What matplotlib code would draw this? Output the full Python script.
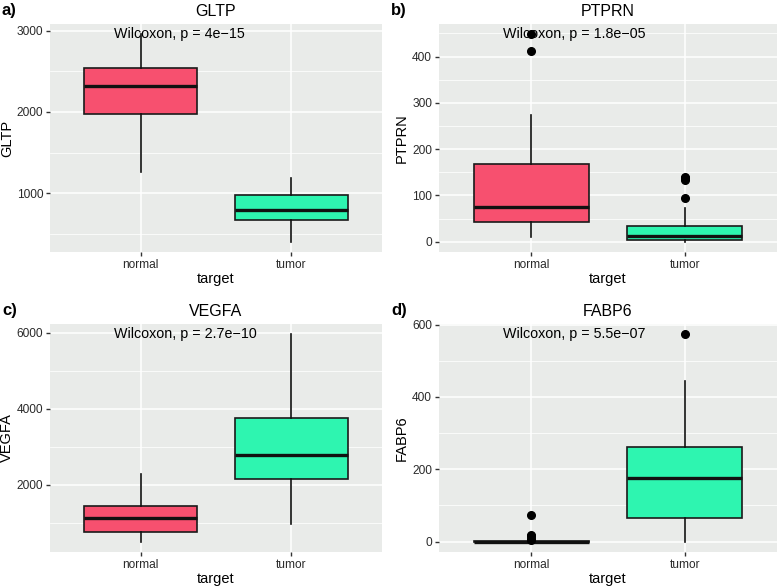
import matplotlib
matplotlib.use("Agg")
import matplotlib.pyplot as plt
import matplotlib.transforms as mtransforms
from matplotlib.ticker import MultipleLocator, AutoMinorLocator

plt.rcParams['font.family'] = ['Liberation Sans', 'DejaVu Sans']

categories = ["normal", "tumor"]
genes = ["GLTP", "PTPRN", "VEGFA", "FABP6"]
panel_tags = ["a)", "b)", "c)", "d)"]
pvalues = ["4e\u221215", "1.8e\u221205", "2.7e\u221210", "5.5e\u221207"]

# box stats per gene: (whislo, q1, med, q3, whishi) for normal, tumor
gltp_normal = [1265, 1970, 2320, 2540, 2958]
gltp_tumor = [400, 670, 790, 980, 1190]
ptprn_normal = [10, 42, 75, 167, 273]
ptprn_tumor = [0, 3, 13, 33, 72]
vegfa_normal = [500, 750, 1130, 1450, 2270]
vegfa_tumor = [960, 2150, 2780, 3760, 5956]
fabp6_normal = [0, 0, 0, 1, 2]
fabp6_tumor = [0, 65, 177, 263, 443]

# outliers
gltp_out = [[], []]
ptprn_out = [[448, 413], [140, 137, 133, 94]]
vegfa_out = [[], []]
fabp6_out = [[73, 18, 15, 8, 4], [573]]

stats_all = [(gltp_normal, gltp_tumor), (ptprn_normal, ptprn_tumor),
             (vegfa_normal, vegfa_tumor), (fabp6_normal, fabp6_tumor)]
outs_all = [gltp_out, ptprn_out, vegfa_out, fabp6_out]
major_steps = [1000, 100, 2000, 200]

colors = ["#F7506F", "#2EF5B0"]
W, H = 778, 587
# panel pixel boxes: left, top, right, bottom
boxes_px = [(50, 24, 382, 252), (439, 24, 777, 252),
            (50, 324, 382, 552), (439, 324, 777, 552)]
ylabel_x_px = [7, 402, 7, 402]

fig = plt.figure(figsize=(W / 100, H / 100), dpi=100)
fig.patch.set_facecolor("white")

for i, gene in enumerate(genes):
    l, t, r, b = boxes_px[i]
    ax = fig.add_axes([l / W, 1 - b / H, (r - l) / W, (b - t) / H])
    ax.set_facecolor("#E9EBE9")
    sn, st = stats_all[i]
    bxp = []
    for k, s in enumerate((sn, st)):
        bxp.append(dict(whislo=s[0], q1=s[1], med=s[2], q3=s[3], whishi=s[4],
                        fliers=outs_all[i][k], label=categories[k]))
    bp = ax.bxp(bxp, positions=[1, 2], widths=0.75, patch_artist=True,
                showcaps=False,
                boxprops=dict(linewidth=1.2, edgecolor="#1a1a1a"),
                medianprops=dict(color="#111111", linewidth=2.4),
                whiskerprops=dict(color="#111111", linewidth=1.2),
                flierprops=dict(marker="o", markerfacecolor="black",
                                markeredgecolor="black", markersize=5.5))
    for patch, c in zip(bp["boxes"], colors):
        patch.set_facecolor(c)
    for p in (bp["boxes"] + bp["whiskers"] + bp["medians"] + bp["fliers"]):
        p.set_zorder(3)

    allv = sn + st + outs_all[i][0] + outs_all[i][1]
    lo, hi = min(allv), max(allv)
    pad = (hi - lo) * 0.05
    ax.set_ylim(lo - pad, hi + pad)
    ax.set_xlim(0.4, 2.6)
    ax.yaxis.set_major_locator(MultipleLocator(major_steps[i]))
    ax.yaxis.set_minor_locator(AutoMinorLocator(2))
    ax.grid(which="major", color="white", linewidth=1.1, zorder=0)
    ax.grid(which="minor", axis="y", color="white", linewidth=0.55, zorder=0)
    ax.set_axisbelow(True)
    for sp in ax.spines.values():
        sp.set_visible(False)
    ax.tick_params(axis="both", which="major", length=3, width=1, color="#333333",
                   labelsize=8.6, labelcolor="#2a2a2a", pad=2)
    ax.tick_params(axis="y", which="minor", length=0)
    ax.set_xticks([1, 2])
    ax.set_xticklabels(categories)
    ax.set_xlabel("target", fontsize=10.5, labelpad=1)
    ax.set_ylabel(gene, fontsize=10.5)
    ax.yaxis.set_label_coords(ylabel_x_px[i] / W, 1 - (t + b) / 2 / H,
                              transform=fig.transFigure)
    ax.yaxis.label.set_verticalalignment("center")
    ax.set_title(gene, fontsize=11.5, pad=6)
    trans = mtransforms.blended_transform_factory(ax.transAxes, ax.transData)
    ax.text(64 / (r - l), hi, "Wilcoxon, p = " + pvalues[i], transform=trans,
            ha="left", va="center", fontsize=10.3, zorder=5)
    fig.text((l - 48) / W, 1 - (t - 14) / H, panel_tags[i], fontsize=12,
             fontweight="bold", ha="left", va="center")

fig.savefig("out.png", dpi=100)
